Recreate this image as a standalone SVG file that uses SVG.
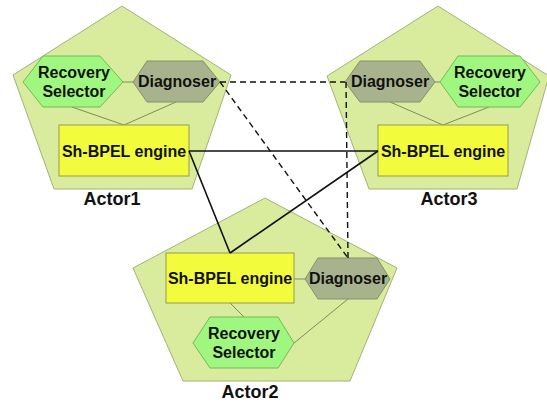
<svg xmlns="http://www.w3.org/2000/svg" width="547" height="406" viewBox="0 0 547 406">
<style>
.actor{fill:#d9eb9d;stroke:#a3b27a;stroke-width:1}
.rec{fill:#9ff77f;stroke:#74b95a;stroke-width:1}
.diag{fill:#a8b38e;stroke:#86916c;stroke-width:1}
.eng{fill:#f2fb3c;stroke:#989a55;stroke-width:1}
.inner{stroke:#7d8c5c;stroke-width:1;fill:none}
.t{font-family:"Liberation Sans",Arial,sans-serif;font-weight:bold;font-size:16px;fill:#111;text-anchor:middle}
.lbl{font-family:"Liberation Sans",Arial,sans-serif;font-weight:bold;font-size:18px;fill:#111;text-anchor:middle}
.solid{stroke:#111;stroke-width:1.6;fill:none}
.dash{stroke:#111;stroke-width:1.4;fill:none;stroke-dasharray:6 4}
</style>
<rect width="547" height="406" fill="#fff"/>
<g id="actor1">
<polygon class="actor" points="122,6 231,75 192,189 54,189 13,75"/>
<line class="inner" x1="123" y1="82" x2="133" y2="82"/>
<line class="inner" x1="72" y1="107" x2="124" y2="125"/>
<line class="inner" x1="176" y1="102" x2="124" y2="125"/>
<polygon class="rec" points="23,82 43,56 100,56 123,82 100,107 43,107"/>
<text class="t" x="74" y="78">Recovery</text>
<text class="t" x="74" y="97">Selector</text>
<polygon class="diag" points="133,82 147,61 203,61 220,82 203,102 147,102"/>
<text class="t" x="177" y="87">Diagnoser</text>
<rect class="eng" x="59" y="125" width="130" height="51"/>
<text class="t" x="124" y="157">Sh-BPEL engine</text>
<text class="lbl" x="112" y="205">Actor1</text>
</g>
<g id="actor3">
<polygon class="actor" points="438,6 549,76 517,189 369,189 327,76"/>
<line class="inner" x1="435" y1="82" x2="440" y2="82"/>
<line class="inner" x1="390" y1="102" x2="443" y2="125"/>
<line class="inner" x1="489" y1="107" x2="443" y2="125"/>
<polygon class="diag" points="345,82 360,61 420,61 435,82 420,102 360,102"/>
<text class="t" x="390" y="87">Diagnoser</text>
<polygon class="rec" points="440,82 458,56 520,56 540,82 520,107 458,107"/>
<text class="t" x="490" y="78">Recovery</text>
<text class="t" x="490" y="97">Selector</text>
<rect class="eng" x="378" y="125" width="130" height="51"/>
<text class="t" x="443" y="157">Sh-BPEL engine</text>
<text class="lbl" x="449" y="205">Actor3</text>
</g>
<g id="actor2">
<polygon class="actor" points="265,198 397,268 350,381 183,381 133,268"/>
<line class="inner" x1="294" y1="279" x2="305" y2="279"/>
<line class="inner" x1="230" y1="303" x2="244" y2="317"/>
<line class="inner" x1="348" y1="299" x2="294" y2="343"/>
<rect class="eng" x="166" y="253" width="128" height="50"/>
<text class="t" x="230" y="284">Sh-BPEL engine</text>
<polygon class="diag" points="305,279 318,258 377,258 390,279 377,299 318,299"/>
<text class="t" x="348" y="284">Diagnoser</text>
<polygon class="rec" points="193,343 210,317 278,317 294,343 278,368 210,368"/>
<text class="t" x="244" y="339">Recovery</text>
<text class="t" x="244" y="358">Selector</text>
<text class="lbl" x="250" y="398">Actor2</text>
</g>
<g id="connectors">
<line class="solid" x1="189" y1="151" x2="378" y2="151"/>
<line class="solid" x1="189" y1="151" x2="230" y2="253"/>
<line class="solid" x1="230" y1="253" x2="378" y2="151"/>
<line class="dash" x1="220" y1="82" x2="345" y2="82"/>
<line class="dash" x1="220" y1="82" x2="348" y2="258"/>
<line class="dash" x1="346" y1="82" x2="348" y2="258"/>
</g>
</svg>
